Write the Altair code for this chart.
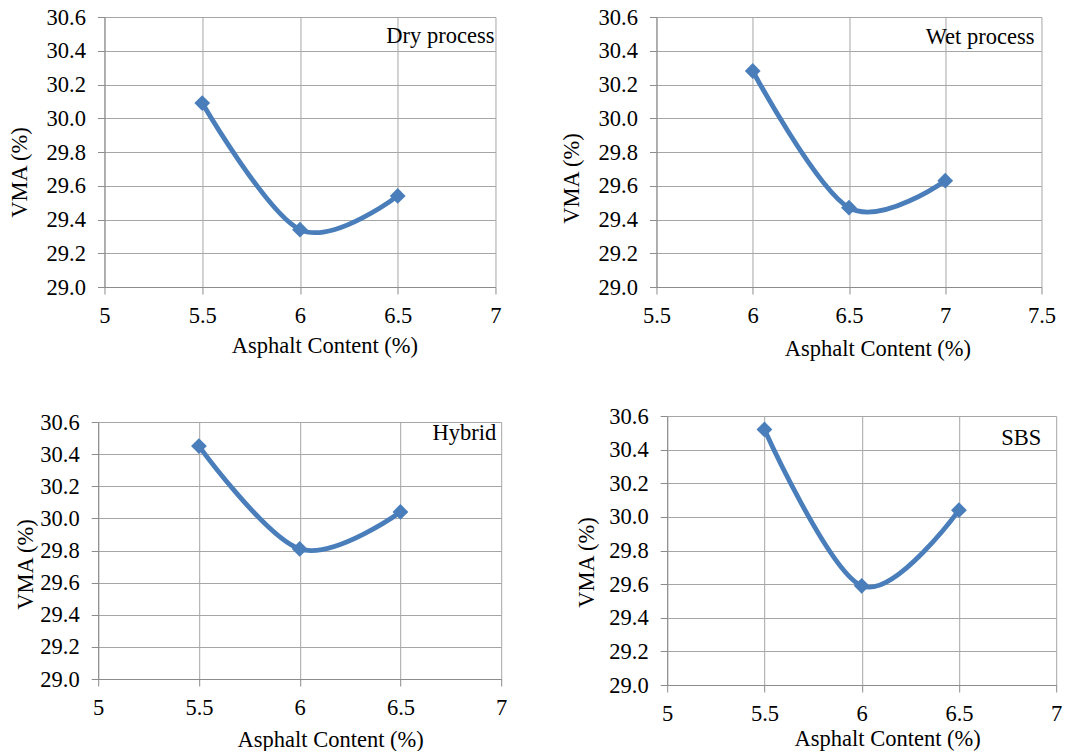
import altair as alt
import pandas as pd

# ---- data ----
x_dry = [5.5, 6.0, 6.5]
vma_dry = [30.09, 29.34, 29.54]
x_wet = [6.0, 6.5, 7.0]
vma_wet = [30.28, 29.47, 29.63]
x_hyb = [5.5, 6.0, 6.5]
vma_hyb = [30.45, 29.81, 30.04]
x_sbs = [5.5, 6.0, 6.5]
vma_sbs = [30.52, 29.59, 30.04]

x_ticks_a = [5, 5.5, 6, 6.5, 7]
x_ticks_b = [5.5, 6, 6.5, 7, 7.5]
y_ticks = [29.0, 29.2, 29.4, 29.6, 29.8, 30.0, 30.2, 30.4, 30.6]

labels = ["Dry process", "Wet process", "Hybrid", "SBS"]
label_y = [30.49, 30.48, 30.53, 30.47]

FONT = "Liberation Serif"
FS = 22.5
BLUE = "#4A7EBB"
GRID = "#a6a6a6"
AXIS = "#8c8c8c"


def panel(xs, ys, label, ly, ldx, xticks, W, H, yt_x, yt_y, xt_x, xt_y):
    xdom = [xticks[0], xticks[-1]]
    df = pd.DataFrame({"x": xs, "y": ys})
    xenc = alt.X(
        "x:Q",
        scale=alt.Scale(domain=xdom, nice=False, zero=False),
        axis=alt.Axis(
            values=xticks, format=".1~f", grid=True, gridColor=GRID, gridWidth=1,
            domainColor=AXIS, tickColor=AXIS, tickSize=7, labelPadding=10,
            labelFont=FONT, labelFontSize=FS, labelColor="#000000",
            labelFlush=False, labelOverlap=False,
            title="Asphalt Content (%)", titleFont=FONT, titleFontSize=FS,
            titleFontWeight="normal", titleColor="#000000",
            titleX=xt_x, titleY=xt_y, titleAlign="center", titleBaseline="middle",
        ),
    )
    yenc = alt.Y(
        "y:Q",
        scale=alt.Scale(domain=[29.0, 30.6], nice=False, zero=False),
        axis=alt.Axis(
            values=y_ticks, format=".1f", grid=True, gridColor=GRID, gridWidth=1,
            domainColor=AXIS, tickColor=AXIS, tickSize=7, labelPadding=12,
            labelFont=FONT, labelFontSize=FS, labelColor="#000000",
            labelFlush=False, labelOverlap=False,
            title="VMA (%)", titleFont=FONT, titleFontSize=FS,
            titleFontWeight="normal", titleColor="#000000",
            titleX=yt_x, titleY=yt_y, titleAngle=270, titleAlign="center",
            titleBaseline="middle",
        ),
    )
    base = alt.Chart(df).encode(x=xenc, y=yenc)
    line = base.mark_line(interpolate="cardinal", color=BLUE, strokeWidth=4.8)
    pts = base.mark_point(shape="diamond", filled=True, size=250, color=BLUE, opacity=1)
    tdf = pd.DataFrame({"x": [xdom[1]], "y": [ly], "t": [label]})
    txt = alt.Chart(tdf).mark_text(
        align="right", baseline="middle", dx=ldx, font=FONT, fontSize=FS, color="#000000"
    ).encode(x=xenc, y=yenc, text="t:N")
    return alt.layer(line, pts, txt).properties(width=W, height=H)


p1 = panel(x_dry, vma_dry, labels[0], label_y[0], -1, x_ticks_a, 391, 270, -85, 155, 220, 58)
p2 = panel(x_wet, vma_wet, labels[1], label_y[1], -7, x_ticks_b, 385, 270, -85, 161, 221, 61)
p3 = panel(x_hyb, vma_hyb, labels[2], label_y[2], -5, x_ticks_a, 403, 257, -73, 142, 232, 60)
p4 = panel(x_sbs, vma_sbs, labels[3], label_y[3], -15, x_ticks_a, 389, 269, -81, 146, 220, 53)

row1 = alt.hconcat(p1, p2, spacing=161, bounds="flush", center=True)
row2 = alt.hconcat(p3, p4, spacing=166, bounds="flush", center=True)

chart = (
    alt.vconcat(row1, row2, spacing=45, center=True)
    .properties(padding={"left": 8, "top": 6, "right": 0, "bottom": 0}, background="white")
    .configure_view(stroke=None)
)

chart.save("out.html", embed_options={"renderer": "svg", "actions": False})
